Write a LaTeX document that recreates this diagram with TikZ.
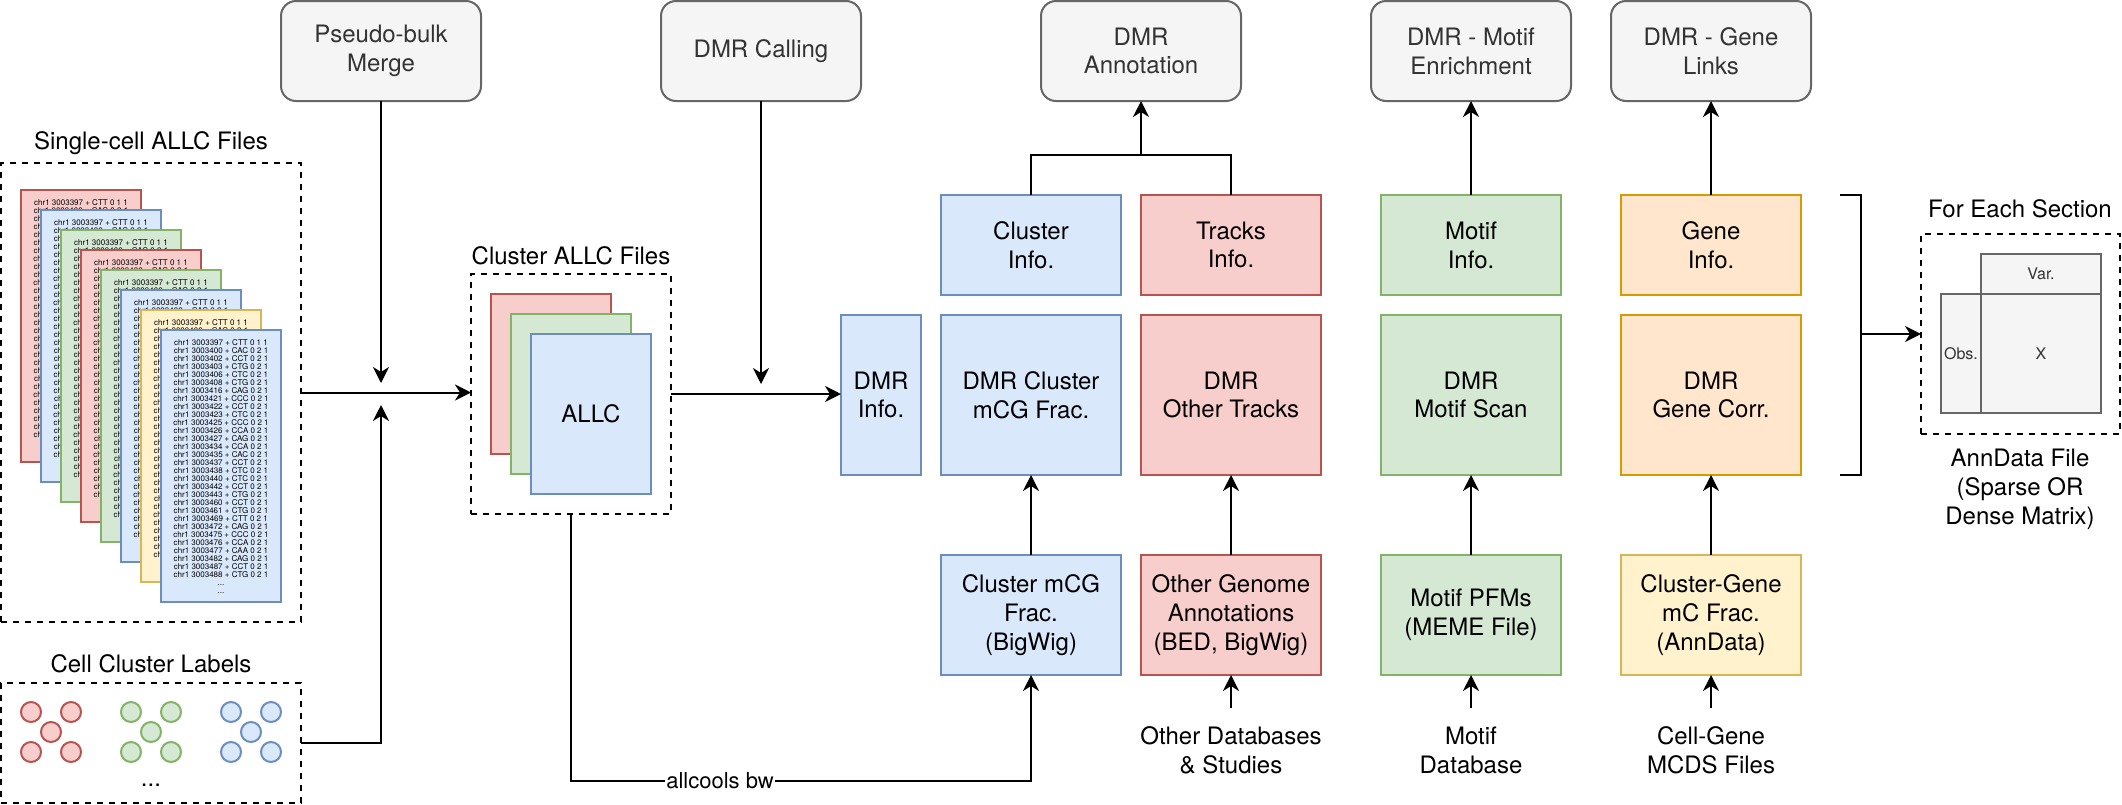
\documentclass[tikz,border=0pt]{standalone}
\usepackage{fontspec}
\setmainfont{TeX Gyre Heros}
\usetikzlibrary{arrows.meta,calc}
\definecolor{bfill}{HTML}{DAE8FC}\definecolor{bdraw}{HTML}{6C8EBF}
\definecolor{rfill}{HTML}{F8CECC}\definecolor{rdraw}{HTML}{B85450}
\definecolor{gfill}{HTML}{D5E8D4}\definecolor{gdraw}{HTML}{82B366}
\definecolor{yfill}{HTML}{FFF2CC}\definecolor{ydraw}{HTML}{D6B656}
\definecolor{ofill}{HTML}{FFE6CC}\definecolor{odraw}{HTML}{D79B00}
\definecolor{kfill}{HTML}{F5F5F5}\definecolor{kdraw}{HTML}{666666}
\definecolor{ktext}{HTML}{333333}
\newcommand{\allcrows}{chr1 3003397 + CTT 0 1 1\\chr1 3003400 + CAC 0 2 1\\chr1 3003402 + CCT 0 2 1\\chr1 3003403 + CTG 0 2 1\\chr1 3003406 + CTC 0 2 1\\chr1 3003408 + CTG 0 2 1\\chr1 3003416 + CAG 0 2 1\\chr1 3003421 + CCC 0 2 1\\chr1 3003422 + CCT 0 2 1\\chr1 3003423 + CTC 0 2 1\\chr1 3003425 + CCC 0 2 1\\chr1 3003426 + CCA 0 2 1\\chr1 3003427 + CAG 0 2 1\\chr1 3003434 + CCA 0 2 1\\chr1 3003435 + CAC 0 2 1\\chr1 3003437 + CCT 0 2 1\\chr1 3003438 + CTC 0 2 1\\chr1 3003440 + CTC 0 2 1\\chr1 3003442 + CCT 0 2 1\\chr1 3003443 + CTG 0 2 1\\chr1 3003460 + CCT 0 2 1\\chr1 3003461 + CTG 0 2 1\\chr1 3003469 + CTT 0 2 1\\chr1 3003472 + CAG 0 2 1\\chr1 3003475 + CCC 0 2 1\\chr1 3003476 + CCA 0 2 1\\chr1 3003477 + CAA 0 2 1\\chr1 3003482 + CAG 0 2 1\\chr1 3003487 + CCT 0 2 1\\chr1 3003488 + CTG 0 2 1\\...\\...}
% rows of a card that lies under another: only the left edge of each row shows
\newcommand{\chrow}[1]{chr1\hphantom{ #1}}
\newcommand{\backrows}{chr1 3003397 + CTT 0 1 1\\chr1 3003400 + CAC 0 2 1\\\chrow{3003402 + CCT 0 2 1}\\\chrow{3003403 + CTG 0 2 1}\\\chrow{3003406 + CTC 0 2 1}\\\chrow{3003408 + CTG 0 2 1}\\\chrow{3003416 + CAG 0 2 1}\\\chrow{3003421 + CCC 0 2 1}\\\chrow{3003422 + CCT 0 2 1}\\\chrow{3003423 + CTC 0 2 1}\\\chrow{3003425 + CCC 0 2 1}\\\chrow{3003426 + CCA 0 2 1}\\\chrow{3003427 + CAG 0 2 1}\\\chrow{3003434 + CCA 0 2 1}\\\chrow{3003435 + CAC 0 2 1}\\\chrow{3003437 + CCT 0 2 1}\\\chrow{3003438 + CTC 0 2 1}\\\chrow{3003440 + CTC 0 2 1}\\\chrow{3003442 + CCT 0 2 1}\\\chrow{3003443 + CTG 0 2 1}\\\chrow{3003460 + CCT 0 2 1}\\\chrow{3003461 + CTG 0 2 1}\\\chrow{3003469 + CTT 0 2 1}\\\chrow{3003472 + CAG 0 2 1}\\\chrow{3003475 + CCC 0 2 1}\\\chrow{3003476 + CCA 0 2 1}\\\chrow{3003477 + CAA 0 2 1}\\\chrow{3003482 + CAG 0 2 1}\\\chrow{3003487 + CCT 0 2 1}\\\chrow{3003488 + CTG 0 2 1}}
\begin{document}
\begin{tikzpicture}[x=1pt,y=-1pt,
  every node/.style={inner sep=0pt, outer sep=0pt},
  txt/.style={font=\fontsize{24}{28.8}\selectfont, align=center},
  sz/.style 2 args={minimum width=#1pt, minimum height=#2pt},
  colbox/.style={draw=#1draw, fill=#1fill, line width=2pt, txt},
  procbox/.style={draw=kdraw, fill=kfill, text=ktext, line width=2pt, rounded corners=15pt, txt},
  dbox/.style={draw=black, dash pattern=on 6pt off 6pt, line width=2pt},
  cardbox/.style={draw=#1draw, fill=#1fill, line width=2pt, minimum width=120pt, minimum height=272pt},
  cardtxt/.style={font=\fontsize{8}{8}\selectfont, align=center},
  dot/.style={draw=#1draw, fill=#1fill, line width=2pt},
  conn/.style={line width=2pt},
  arr/.style={line width=2pt, -{Stealth[length=16pt, width=16pt, inset=5pt]}},
  lbl/.style={font=\fontsize{22}{26}\selectfont, fill=white, inner sep=1pt},
  adcell/.style={draw=kdraw, fill=kfill, text=ktext, line width=2pt, font=\fontsize{16}{19}\selectfont}
]
\useasboundingbox (0,0) rectangle (2122,804);

% ---- top process boxes
\node[procbox, sz={200}{100}] (pbm) at (381,51) {Pseudo-bulk\\Merge};
\node[procbox, sz={200}{100}] (dcall) at (761,51) {DMR Calling};
\node[procbox, sz={200}{100}] (dann) at (1141,51) {DMR\\Annotation};
\node[procbox, sz={200}{100}] (dmot) at (1471,51) {DMR - Motif\\Enrichment};
\node[procbox, sz={200}{100}] (dgen) at (1711,51) {DMR - Gene\\Links};

% ---- single-cell ALLC files
\node[txt] (sclabel) at (151,143) {Single-cell ALLC Files};
\node[dbox, sz={300}{459}] (scbox) at (151,392.5) {};
\foreach \c [count=\i from 0] in {r,b,g,r,g,b,y} {
  \node[cardbox=\c] (card\i) at (81+20*\i, 326+20*\i) {};
  \node[cardtxt, anchor=north] (cardt\i) at ([yshift=-10pt]card\i.north) {\backrows};
}
\node[cardbox=b] (card7) at (221,466) {};
\node[cardtxt, anchor=north] (cardt7) at ([yshift=-10pt]card7.north) {\allcrows};

% ---- cell cluster labels
\node[txt] (cclabel) at (151,664) {Cell Cluster Labels};
\node[dbox, sz={300}{120}] (ccl) at (151,743) {};
\foreach \c [count=\k from 0] in {r,g,b} {
  \foreach \px/\py in {31/712,71/712,51/732,31/752,71/752} {
    \draw[dot=\c] (\px+100*\k, \py) circle[radius=10pt];
  }
}
\node[txt, anchor=base] (ccdots) at (151,786) {...};

% ---- cluster ALLC files
\node[txt] (callclabel) at (571,256) {Cluster ALLC Files};
\node[dbox, sz={200}{240}] (callc) at (571,394) {};
\node[colbox=r, sz={120}{160}] (callr) at (551,374) {};
\node[colbox=g, sz={120}{160}] (callg) at (571,394) {};
\node[colbox=b, sz={120}{160}] (callb) at (591,414) {ALLC};

% ---- DMR blocks
\node[colbox=b, sz={80}{160}] (dinfo) at (881,395) {DMR\\Info.};
\node[colbox=b, sz={180}{100}] (clinfo) at (1031,245) {Cluster\\Info.};
\node[colbox=b, sz={180}{160}] (dclmcg) at (1031,395) {DMR Cluster\\mCG Frac.};
\node[colbox=b, sz={180}{120}] (clfrac) at (1031,615) {Cluster mCG\\Frac.\\(BigWig)};
\node[colbox=r, sz={180}{100}] (trinfo) at (1231,245) {Tracks\\Info.};
\node[colbox=r, sz={180}{160}] (dother) at (1231,395) {DMR\\Other Tracks};
\node[colbox=r, sz={180}{120}] (ogen) at (1231,615) {Other Genome\\Annotations\\(BED, BigWig)};
\node[colbox=g, sz={180}{100}] (minfo) at (1471,245) {Motif\\Info.};
\node[colbox=g, sz={180}{160}] (mscan) at (1471,395) {DMR\\Motif Scan};
\node[colbox=g, sz={180}{120}] (mpfm) at (1471,615) {Motif PFMs\\(MEME File)};
\node[colbox=o, sz={180}{100}] (ginfo) at (1711,245) {Gene\\Info.};
\node[colbox=o, sz={180}{160}] (gcorr) at (1711,395) {DMR\\Gene Corr.};
\node[colbox=y, sz={180}{120}] (cgene) at (1711,615) {Cluster-Gene\\mC Frac.\\(AnnData)};

% ---- bottom source labels
\node[txt] (odb) at (1231,750) {Other Databases\\\& Studies};
\node[txt] (mdb) at (1471,750) {Motif\\Database};
\node[txt] (mcds) at (1711,750) {Cell-Gene\\MCDS Files};
\coordinate (odbtail) at (1231,708);
\coordinate (mdbtail) at (1471,708);
\coordinate (mcdstail) at (1711,708);

% ---- AnnData
\node[txt] (fes) at (2020,209) {For Each Section};
\node[dbox, sz={199}{200}] (adbox) at (2020.5,334) {};
\node[adcell, sz={120}{40}] (advar) at (2041,274) {Var.};
\node[adcell, sz={40}{119}] (adobs) at (1961,353.5) {Obs.};
\node[adcell, sz={120}{119}] (adx) at (2041,353.5) {X};
\node[txt] (adlabel) at (2020,489) {AnnData File\\(Sparse OR\\Dense Matrix)};

% ---- connectors
\coordinate (pbtip) at (381,383);
\coordinate (cltip) at (381,405);
\coordinate (dctip) at (761,384);
\coordinate (bwturn) at (1031,781);
\coordinate (annj) at (1141,155);
\coordinate (brk) at (1861,334);

\draw[arr] (scbox.east) -- (scbox.east -| callc.west);
\draw[arr] (pbm.south) -- (pbtip);
\draw[arr] (ccl.east) -| (cltip);
\draw[arr] (callc.east) -- (callc.east -| dinfo.west);
\draw[arr] (dcall.south) -- (dctip);
\draw[arr] (callc.south) |- node[lbl, pos=0.662] (bwlbl) {allcools bw} (bwturn) -- (clfrac.south);

\draw[arr] (clinfo.north) |- (annj) -- (dann.south);
\draw[conn] (trinfo.north) |- (annj);
\draw[arr] (minfo.north) -- (dmot.south);
\draw[arr] (ginfo.north) -- (dgen.south);

\draw[arr] (clfrac.north) -- (dclmcg.south);
\draw[arr] (ogen.north) -- (dother.south);
\draw[arr] (mpfm.north) -- (mscan.south);
\draw[arr] (cgene.north) -- (gcorr.south);

\draw[arr] (odbtail) -- (ogen.south);
\draw[arr] (mdbtail) -- (mpfm.south);
\draw[arr] (mcdstail) -- (cgene.south);

\draw[conn] (1840,195) -- (1861,195) -- (1861,475) -- (1840,475);
\draw[arr] (brk) -- (adbox.west);
\end{tikzpicture}
\end{document}
